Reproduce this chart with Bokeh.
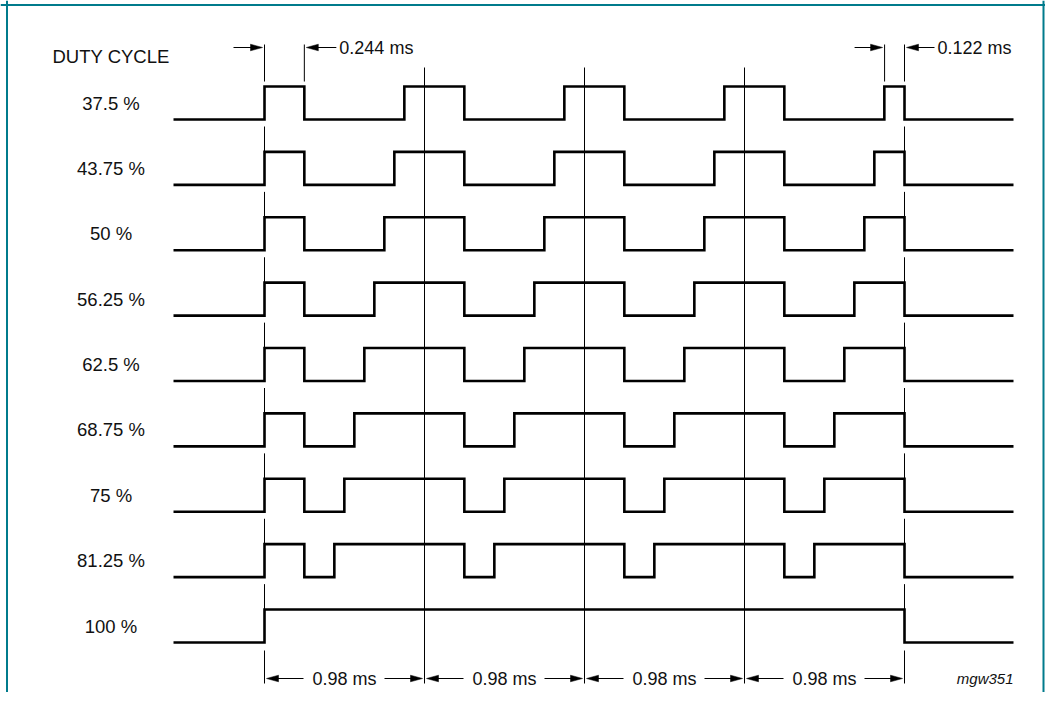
from bokeh.plotting import figure
from bokeh.models import Range1d, Span
from bokeh.core.properties import value
from bokeh.embed import file_html
from bokeh.resources import INLINE

# ---------------- data ----------------
duty_labels = ["37.5 %", "43.75 %", "50 %", "56.25 %", "62.5 %",
               "68.75 %", "75 %", "81.25 %", "100 %"]
duty_cycles = [37.5, 43.75, 50, 56.25, 62.5, 68.75, 75, 81.25, 100]
period_ms = 0.98
n_periods = 4
first_pulse_ms = 0.244
last_pulse_ms = 0.122
period_label = "0.98 ms"
first_pulse_label = "0.244 ms"
last_pulse_label = "0.122 ms"
header = "DUTY CYCLE"
code_label = "mgw351"

# ---------------- layout (pixels -> data) ----------------
W, H = 1045, 692
ORIGIN = 0                      # picture x/y of the figure's top-left corner
PX_X = 160 / period_ms          # px per ms
PX_Y = 65.375                   # px per row
X0_PAGE = 264                   # picture x of t = 0
Y0_PAGE = 119                   # picture y of row-0 low level
AMP = 33 / PX_Y                 # pulse height in row units


def tx(page_x):
    return (page_x - X0_PAGE) / PX_X


def ty(page_y):
    return (Y0_PAGE - page_y) / PX_Y


p = figure(width=W, height=H, output_backend="svg", toolbar_location=None,
           x_range=Range1d(tx(ORIGIN), tx(ORIGIN + W)),
           y_range=Range1d(ty(ORIGIN + H), ty(ORIGIN)),
           x_axis_location=None, y_axis_location=None, min_border=0)
p.grid.visible = False
p.outline_line_color = None
p.background_fill_color = "white"
p.border_fill_color = "white"

T = period_ms
t_end_all = n_periods * T
x_lo, x_hi = tx(173), tx(1013)

# ---------------- waveforms ----------------
wxs, wys = [], []
for i, d in enumerate(duty_cycles):
    base = -i
    top = base + AMP
    if d >= 100:
        xs = [x_lo, 0, 0, t_end_all, t_end_all, x_hi]
        ys = [base, base, top, top, base, base]
    else:
        late = d / 100 * T - first_pulse_ms
        xs = [x_lo, 0, 0, first_pulse_ms, first_pulse_ms]
        ys = [base, base, top, top, base]
        for k in range(1, n_periods + 1):
            r = k * T - late
            f = k * T + first_pulse_ms if k < n_periods else k * T
            xs += [r, r, f, f]
            ys += [base, top, top, base]
        xs.append(x_hi)
        ys.append(base)
    wxs.append(xs)
    wys.append(ys)

p.multi_line(wxs, wys, line_color="black", line_width=2.6, line_join="miter")

# ---------------- reference lines ----------------
sx0, sy0, sx1, sy1 = [], [], [], []
# period boundaries (solid)
for k in range(1, n_periods):
    sx0.append(k * T); sx1.append(k * T)
    sy0.append(ty(67)); sy1.append(ty(683))
# start / end markers (broken between rows)
for x in [0, t_end_all]:
    sx0.append(x); sx1.append(x); sy0.append(ty(44)); sy1.append(ty(81))
    for i in range(len(duty_cycles) - 1):
        sx0.append(x); sx1.append(x)
        sy0.append(-i - 7 / PX_Y); sy1.append(-(i + 1) + AMP - 5 / PX_Y)
    sx0.append(x); sx1.append(x)
    sy0.append(-(len(duty_cycles) - 1) - 8 / PX_Y); sy1.append(ty(683))
# pulse width markers on top
for x in [first_pulse_ms, t_end_all - last_pulse_ms]:
    sx0.append(x); sx1.append(x); sy0.append(ty(44)); sy1.append(ty(81))

p.segment(sx0, sy0, sx1, sy1, line_color="black", line_width=1)

# ---------------- arrows ----------------
ax0, ax1, ay = [], [], []
tri_x, tri_y = [], []
HEAD_L, HEAD_H = 12 / PX_X, 3.3 / PX_Y


def arrow(x_tail, x_tip, y):
    d = 1 if x_tip > x_tail else -1
    ax0.append(x_tail); ax1.append(x_tip - d * HEAD_L * 0.6); ay.append(y)
    tri_x.append([x_tip, x_tip - d * HEAD_L, x_tip - d * HEAD_L])
    tri_y.append([y, y + HEAD_H, y - HEAD_H])


y_top = ty(47)
arrow(tx(233), tx(262), y_top)
arrow(first_pulse_ms + 32 / PX_X, first_pulse_ms + 2 / PX_X, y_top)
x_lp = t_end_all - last_pulse_ms
arrow(x_lp - 30 / PX_X, x_lp - 2 / PX_X, y_top)
arrow(t_end_all + 30 / PX_X, t_end_all + 2 / PX_X, y_top)

y_bot = ty(678)
for k in range(n_periods):
    s = k * T
    arrow(s + 39 / PX_X, s + 2 / PX_X, y_bot)
    arrow(s + 120 / PX_X, s + 158 / PX_X, y_bot)

p.segment(ax0, ay, ax1, ay, line_color="black", line_width=1)
p.patches(tri_x, tri_y, fill_color="black", line_color="black", line_width=0.5)

# ---------------- texts ----------------
FONT = value("Liberation Sans")
p.text(x=[tx(110.5)] * len(duty_labels),
       y=[-i + AMP / 2 for i in range(len(duty_labels))],
       text=duty_labels, text_font=FONT, text_font_size="18.5px",
       text_align="center", text_baseline="middle", text_color="#111111")
p.text(x=[tx(52)], y=[ty(56)], text=[header], text_font=FONT,
       text_font_size="18.5px", text_align="left", text_baseline="middle",
       text_color="#111111")
p.text(x=[first_pulse_ms + 35 / PX_X, t_end_all + 33 / PX_X], y=[y_top, y_top],
       text=[first_pulse_label, last_pulse_label], text_font=FONT,
       text_font_size="18px", text_align="left", text_baseline="middle",
       text_color="#111111")
p.text(x=[k * T + T / 2 for k in range(n_periods)], y=[y_bot] * n_periods,
       text=[period_label] * n_periods, text_font=FONT, text_font_size="18px",
       text_align="center", text_baseline="middle", text_color="#111111")
p.text(x=[tx(1013)], y=[y_bot], text=[code_label], text_font=FONT,
       text_font_size="15px", text_font_style="italic", text_align="right",
       text_baseline="middle", text_color="#111111")

# ---------------- frame border ----------------
BORDER = "#007b8c"
p.add_layout(Span(location=tx(6.5), dimension="height", line_color=BORDER, line_width=2))
p.add_layout(Span(location=tx(ORIGIN + W - 2), dimension="height", line_color=BORDER, line_width=2))
p.add_layout(Span(location=ty(4.5), dimension="width", line_color=BORDER, line_width=2))

open("out.html", "w").write(file_html(p, INLINE))
